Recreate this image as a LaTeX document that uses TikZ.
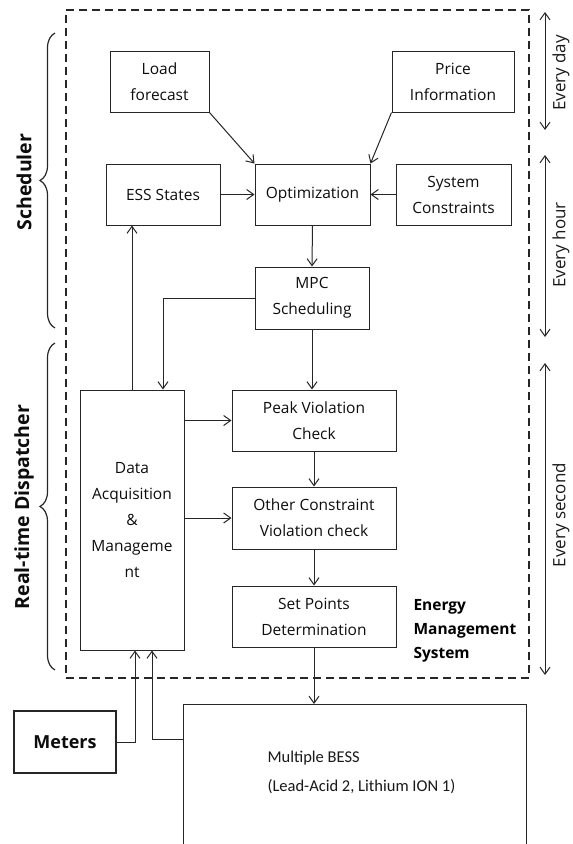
\documentclass[tikz,border=0pt]{standalone}
\usepackage{fontspec}
\setmainfont{Open Sans}
\newfontfamily\bessfont{Carlito}
\usetikzlibrary{arrows.meta,decorations.pathreplacing}
\tikzset{
    plain-box/.style = {draw=black!85, fill=white, line width=1pt, rectangle, inner sep=2pt, align=center, text=black!95, font=\fontsize{15.5}{26}\selectfont},
    meter-box/.style = {plain-box, line width=2.2pt, font=\fontsize{18}{22}\selectfont\bfseries},
    ems-frame/.style = {draw=black!85, line width=2pt, dash pattern=on 8pt off 5pt},
    flow/.style = {draw=black!85, line width=1pt, -{Straight Barb[length=7pt,width=10pt]}},
    period/.style = {draw=black!85, line width=1pt, {Straight Barb[length=7pt,width=10pt]}-{Straight Barb[length=7pt,width=10pt]}},
    part-brace/.style = {draw=black!85, line width=1.2pt, decorate, decoration={brace, amplitude=15pt}},
    part-title/.style = {rotate=90, font=\fontsize{19.5}{22}\selectfont\bfseries, text=black!95},
    period-title/.style = {rotate=90, font=\fontsize{17}{20}\selectfont, text=black!90},
}

\begin{document}
\begin{tikzpicture}[x=1pt, y=-1pt]
\useasboundingbox (0,0) rectangle (573,844);
\node[ems-frame, minimum width=463pt, minimum height=668pt] (ems) at (297.5,344) {};

\node[plain-box, minimum width=99pt, minimum height=61pt] (load) at (159.5,81.5) {Load\\forecast};
\node[plain-box, minimum width=122pt, minimum height=61pt] (price) at (453,81.5) {Price\\Information};
\node[plain-box, minimum width=114pt, minimum height=61pt] (ess) at (163,194.5) {ESS States};
\node[plain-box, minimum width=115pt, minimum height=61pt] (opt) at (312.5,194.5) {Optimization};
\node[plain-box, minimum width=115pt, minimum height=61pt] (sys) at (453.5,194.5) {System\\Constraints};
\node[plain-box, minimum width=114pt, minimum height=62pt] (mpc) at (312,298) {MPC\\Scheduling};
\node[plain-box, minimum width=104pt, minimum height=260pt] (dam) at (132,520) {Data\\Acquisition\\\&\\Manageme\\nt};
\node[plain-box, minimum width=164pt, minimum height=61pt] (peak) at (314,420.5) {Peak Violation\\Check};
\node[plain-box, minimum width=164pt, minimum height=62pt] (other) at (314,518) {Other Constraint\\Violation check};
\node[plain-box, minimum width=164pt, minimum height=61pt] (setp) at (314,616.5) {Set Points\\Determination};
\node[anchor=north west, align=left, text=black, font=\fontsize{15.5}{24}\selectfont\bfseries] (emstext) at (410,596) {Energy\\Management\\System};

\node[meter-box, minimum width=102pt, minimum height=62pt] (meters) at (65,742) {Meters};
\node[plain-box, minimum width=343pt, minimum height=170pt, anchor=north west] (bess) at (183,704) {};
\node[anchor=west, align=left, text=black!90, font=\bessfont\fontsize{16.5}{29}\selectfont] (besstext) at (264,772) {Multiple BESS\\(Lead-Acid 2, Lithium ION 1)};

\draw[part-brace] (55,328) -- (55,33);
\draw[part-brace] (55,670) -- (55,343);
\node[part-title] (sched) at (24,182) {Scheduler};
\node[part-title] (rtd) at (24,507) {Real-time Dispatcher};

\coordinate (day-top) at (545,12);
\coordinate (day-bot) at (545,130);
\coordinate (hour-top) at (545,155);
\coordinate (hour-bot) at (545,337);
\coordinate (sec-top) at (545,363);
\coordinate (sec-bot) at (545,675);
\draw[period] (day-top) -- (day-bot);
\draw[period] (hour-top) -- (hour-bot);
\draw[period] (sec-top) -- (sec-bot);
\node[period-title] (day) at (561,73) {Every day};
\node[period-title] (hour) at (561,245) {Every hour};
\node[period-title] (sec) at (561,515) {Every second};

\draw[flow] (load.south east) -- (opt.north west);
\draw[flow] (price.south west) -- (opt.north east);
\draw[flow] (ess.east) -- (opt.west);
\draw[flow] (sys.west) -- (opt.east);
\draw[flow] (opt.south) -- (mpc.north);
\draw[flow] (mpc.west) -| ([xshift=31pt]dam.north);
\draw[flow] (dam.north) -- (dam.north |- ess.south);
\draw[flow] (mpc.south) -- (mpc.south |- peak.north);
\draw[flow] (dam.east |- peak.west) -- (peak.west);
\draw[flow] (dam.east |- other.west) -- (other.west);
\draw[flow] (peak.south) -- (other.north);
\draw[flow] (other.south) -- (setp.north);
\draw[flow] (setp.south) -- (setp.south |- bess.north);
\draw[flow] (meters.east) -| ([xshift=3pt]dam.south);
\draw[flow] ([yshift=-35pt]bess.north west) -| ([xshift=20pt]dam.south);
\end{tikzpicture}
\end{document}
